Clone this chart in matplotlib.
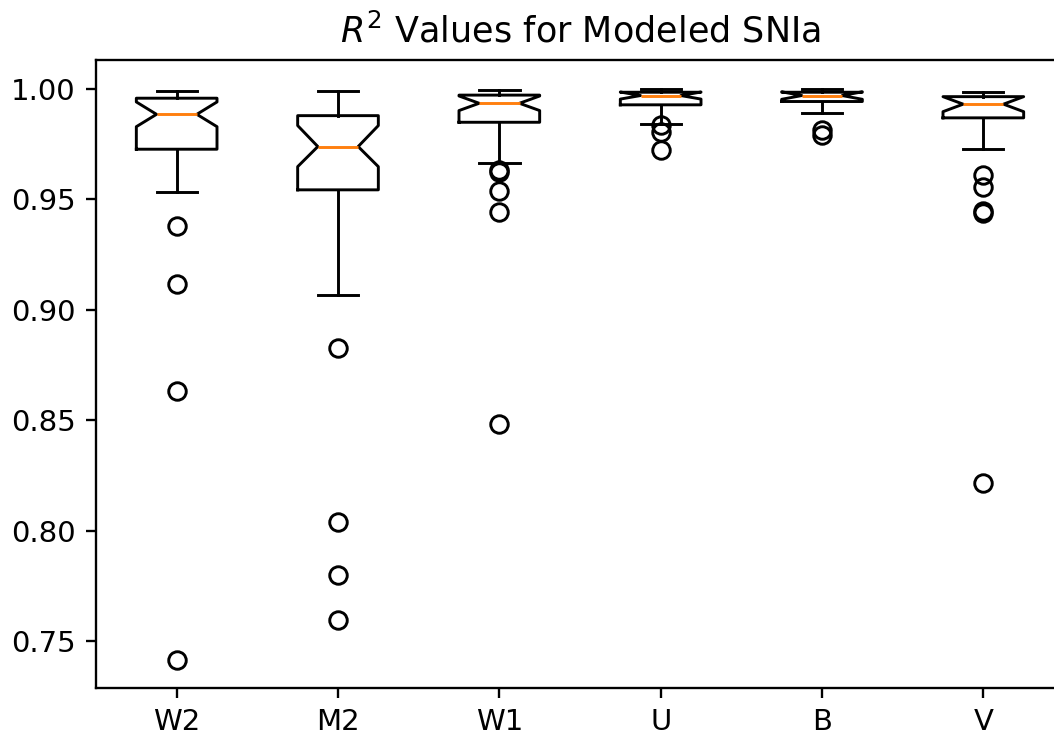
import matplotlib
matplotlib.use("Agg")
import matplotlib.pyplot as plt

# Per-band summary of the R^2 fits (notched box statistics)
bands   = ["W2", "M2", "W1", "U", "B", "V"]
whishi  = [0.9991, 0.9992, 0.9997, 0.9999, 0.9999, 0.9988]
q3      = [0.9958, 0.9879, 0.9972, 0.9985, 0.9985, 0.9965]
cihi    = [0.9941, 0.9834, 0.9968, 0.9986, 0.9987, 0.9965]
medians = [0.9885, 0.9739, 0.9935, 0.9970, 0.9970, 0.9931]
cilo    = [0.9829, 0.9648, 0.9902, 0.9954, 0.9953, 0.9897]
q1      = [0.9727, 0.9543, 0.9849, 0.9928, 0.9943, 0.9869]
whislo  = [0.9535, 0.9067, 0.9666, 0.9843, 0.9890, 0.9727]
fliers  = [
    [0.9380, 0.9117, 0.8632, 0.7414],
    [0.8827, 0.8039, 0.7799, 0.7595],
    [0.9632, 0.9625, 0.9537, 0.9443, 0.8483],
    [0.9837, 0.9807, 0.9724],
    [0.9812, 0.9793],
    [0.9610, 0.9558, 0.9446, 0.9440, 0.8216],
]

stats = []
for i, name in enumerate(bands):
    stats.append({
        "label": name, "med": medians[i], "q1": q1[i], "q3": q3[i],
        "cilo": cilo[i], "cihi": cihi[i],
        "whislo": whislo[i], "whishi": whishi[i], "fliers": fliers[i],
    })

DPI = 210
fig = plt.figure(figsize=(1054 / DPI, 733 / DPI), dpi=DPI)
ax = fig.add_axes([96 / 1054, 45 / 733, 968 / 1054, 628 / 733])
ax.bxp(stats, shownotches=True)
ax.set_ylim(0.7287, 1.0131)
ax.set_title(r"$R^2$ Values for Modeled SNIa")

fig.savefig("out.png", dpi=DPI)
